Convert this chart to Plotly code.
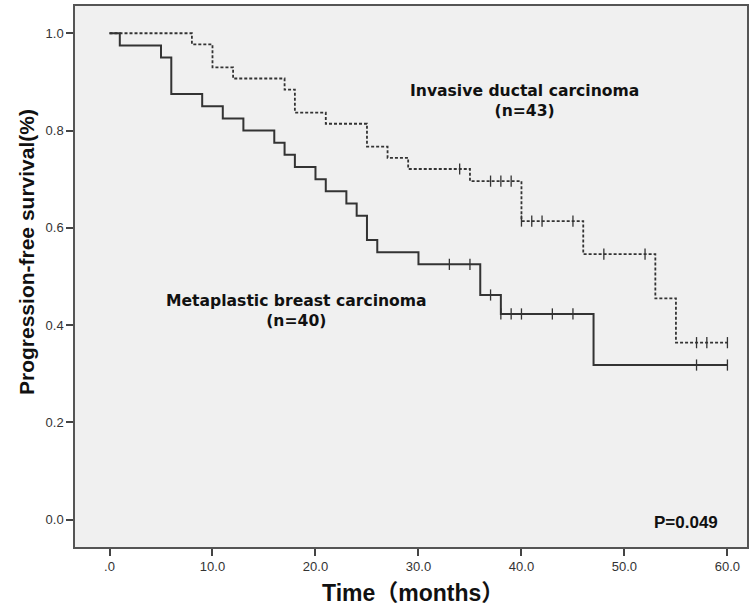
import plotly.graph_objects as go

# Metaplastic breast carcinoma (n=40) - solid
mbc_times = [0, 1, 5, 6, 9, 11, 13, 16, 17, 18, 20, 21, 23, 24, 25, 26, 30, 36, 38, 47, 60]
mbc_surv = [1.0, 0.975, 0.95, 0.875, 0.85, 0.825, 0.80, 0.775, 0.75, 0.725, 0.70, 0.675,
            0.65, 0.625, 0.575, 0.55, 0.525, 0.462, 0.423, 0.318, 0.318]
mbc_cens_t = [33, 35, 37, 38, 39, 40, 43, 45, 57, 60]
mbc_cens_s = [0.525, 0.525, 0.462, 0.423, 0.423, 0.423, 0.423, 0.423, 0.318, 0.318]

# Invasive ductal carcinoma (n=43) - dashed
idc_times = [0, 8, 10, 12, 17, 18, 21, 25, 27, 29, 35, 40, 46, 53, 55, 60]
idc_surv = [1.0, 0.977, 0.930, 0.907, 0.884, 0.837, 0.814, 0.767, 0.744, 0.721, 0.696,
            0.614, 0.546, 0.455, 0.364, 0.364]
idc_cens_t = [34, 37, 38, 39, 40, 41, 42, 45, 48, 52, 57, 58, 60]
idc_cens_s = [0.721, 0.696, 0.696, 0.696, 0.614, 0.614, 0.614, 0.614, 0.546, 0.546,
              0.364, 0.364, 0.364]

x_ticks = [0, 10, 20, 30, 40, 50, 60]
x_tick_labels = [".0", "10.0", "20.0", "30.0", "40.0", "50.0", "60.0"]
y_ticks = [0.0, 0.2, 0.4, 0.6, 0.8, 1.0]
y_tick_labels = ["0.0", "0.2", "0.4", "0.6", "0.8", "1.0"]

line_col = "#333333"

fig = go.Figure()
fig.add_trace(go.Scatter(x=idc_times, y=idc_surv, mode="lines", line_shape="hv",
                         line=dict(color=line_col, width=1.8, dash="3px,2px"),
                         showlegend=False, hoverinfo="skip"))
fig.add_trace(go.Scatter(x=mbc_times, y=mbc_surv, mode="lines", line_shape="hv",
                         line=dict(color=line_col, width=2),
                         showlegend=False, hoverinfo="skip"))
for ct, cs in ((idc_cens_t, idc_cens_s), (mbc_cens_t, mbc_cens_s)):
    fig.add_trace(go.Scatter(x=ct, y=cs, mode="markers",
                             marker=dict(symbol="line-ns-open", size=8, color=line_col,
                                         line=dict(color=line_col, width=1.3)),
                             showlegend=False, hoverinfo="skip"))

label_font = dict(family="DejaVu Sans, Liberation Sans, Arial", size=15.6, color="#111111")
fig.add_annotation(x=40.3, y=0.86, text="<b>Invasive ductal carcinoma<br>(n=43)</b>",
                   showarrow=False, font=label_font, align="center")
fig.add_annotation(x=18.2, y=0.43, text="<b>Metaplastic breast carcinoma<br>(n=40)</b>",
                   showarrow=False, font=label_font, align="center")
fig.add_annotation(x=56.0, y=-0.005, text="<b>P=0.049</b>", showarrow=False,
                   font=dict(family="Liberation Sans, Arial", size=17, color="#111111"))

fig.add_annotation(xref="paper", yref="paper", x=(26 - 75) / 672, y=(547 - 252) / 541,
                   text="<b>Progression-free survival(%)</b>", textangle=-90,
                   showarrow=False, xanchor="center", yanchor="middle",
                   font=dict(family="Liberation Sans, Arial", size=21, color="#111111"))
fig.add_annotation(xref="paper", yref="paper", x=(412.5 - 75) / 672, y=(547 - 593) / 541,
                   text="<b>Time（months）</b>",
                   showarrow=False, xanchor="center", yanchor="middle",
                   font=dict(family="Liberation Sans, Noto Sans CJK SC, Arial", size=23,
                             color="#111111"))

axis_common = dict(showline=True, linecolor="#555555", linewidth=1.5, mirror=True,
                   ticks="outside", ticklen=7, tickwidth=1.5, tickcolor="#444444",
                   showgrid=False, zeroline=False, automargin=False,
                   tickfont=dict(family="Liberation Sans, Arial", size=13, color="#333333"))

fig.update_layout(
    width=749, height=609,
    margin=dict(l=75, r=2, t=6, b=62),
    paper_bgcolor="white", plot_bgcolor="#f0f0f0",
    xaxis=dict(range=[-3.35, 61.9], tickvals=x_ticks, ticktext=x_tick_labels, **axis_common),
    yaxis=dict(range=[-0.056, 1.056], tickvals=y_ticks, ticktext=y_tick_labels, **axis_common),
)

fig.write_html("out.html", config={"displayModeBar": False},
               post_script="document.body.style.margin='0';document.body.style.overflow='hidden';")
